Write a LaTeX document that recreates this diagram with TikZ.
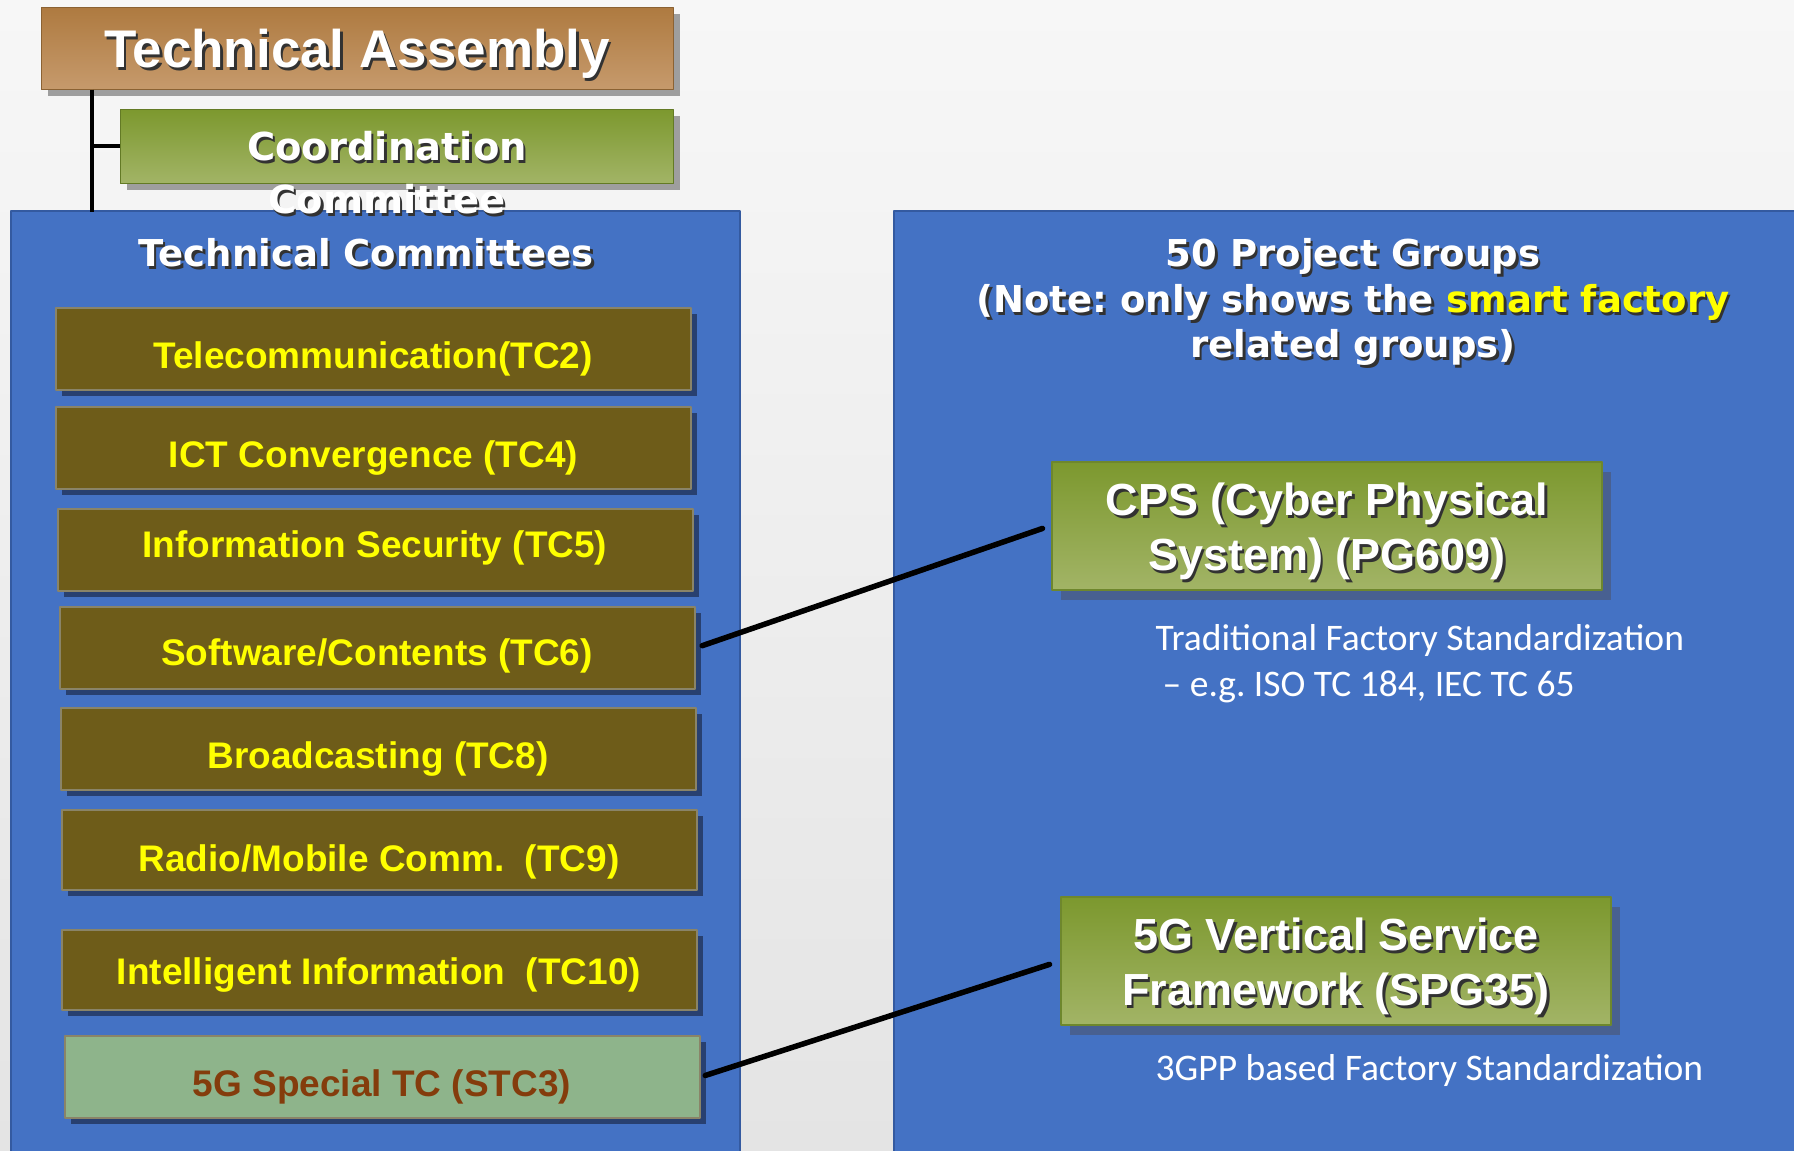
\documentclass[tikz,border=0pt]{standalone}
\usepackage{fontspec}
\setmainfont{Liberation Sans}
\newfontfamily\tahoma{DejaVu Sans}
\newfontfamily\calib{Carlito}
\usepackage{xcolor}
\usepackage{tikz}
\usetikzlibrary{shadows,calc}
\definecolor{bgtop}{RGB}{247,247,247}
\definecolor{bgbottom}{RGB}{228,228,228}
\definecolor{panelblue}{RGB}{68,114,196}
\definecolor{paneledge}{RGB}{52,90,160}
\definecolor{tatop}{RGB}{174,122,64}
\definecolor{tabottom}{RGB}{198,154,108}
\definecolor{grtop}{RGB}{124,152,46}
\definecolor{grbottom}{RGB}{162,180,102}
\definecolor{grayshadow}{RGB}{158,158,158}
\definecolor{tcfill}{RGB}{110,92,25}
\definecolor{tcedge}{RGB}{138,132,104}
\definecolor{tcshadow}{RGB}{40,64,112}
\definecolor{tcyellow}{RGB}{255,255,0}
\definecolor{stcfill}{RGB}{142,180,139}
\definecolor{stctext}{RGB}{132,60,12}
\definecolor{pgshadow}{RGB}{72,96,145}
\definecolor{pgedge}{RGB}{110,135,45}
\definecolor{txtshadow}{RGB}{50,50,50}
\newcommand\hlt[1]{\textcolor{tcyellow}{#1}}
\newcommand\shd[1]{\leavevmode\rlap{\hspace{2.5pt}\raisebox{-3pt}{\color{txtshadow}\let\hlt\relax#1}}#1}

\begin{document}
\frenchspacing
\begin{tikzpicture}[line cap=round,line join=round,x=1pt,y=-1pt,
    panel/.style={draw=paneledge,line width=1.5pt,fill=panelblue},
    spine/.style={line width=4pt,black,line cap=butt},
    link/.style={line width=5.5pt,black},
    tabox/.style={rectangle,inner sep=0pt,minimum width=632pt,minimum height=82pt,top color=tatop,bottom color=tabottom,draw=tatop!80!black,line width=1pt,text=white,font=\fontsize{53}{60}\selectfont\bfseries,text height=38pt,text depth=0pt,drop shadow={shadow xshift=7pt,shadow yshift=-7pt,fill=grayshadow,opacity=1}},
    coordbox/.style={rectangle,inner sep=0pt,minimum width=553pt,minimum height=74pt,top color=grtop,bottom color=grbottom,draw=grtop!80!black,line width=1pt,drop shadow={shadow xshift=7pt,shadow yshift=-7pt,fill=grayshadow,opacity=1}},
    headtxt/.style={inner sep=0pt,text=white,align=center,font=\tahoma\fontsize{37}{45.5}\selectfont\bfseries},
    tcbox/.style={rectangle,inner sep=0pt,minimum width=635pt,minimum height=82pt,fill=tcfill,draw=tcedge,line width=2pt,text=tcyellow,font=\fontsize{37}{44}\selectfont\bfseries,text height=39pt,text depth=0pt,drop shadow={shadow xshift=6pt,shadow yshift=-6pt,fill=tcshadow,opacity=1}},
    stcbox/.style={tcbox,fill=stcfill,text=stctext},
    pgbox/.style={rectangle,inner sep=0pt,minimum width=550pt,minimum height=128pt,top color=grtop,bottom color=grbottom,draw=pgedge,line width=2pt,text=white,align=center,font=\fontsize{45}{55}\selectfont\bfseries,drop shadow={shadow xshift=9pt,shadow yshift=-10pt,fill=pgshadow,opacity=1}},
    notetxt/.style={inner sep=0pt,anchor=west,align=left,text=white,font=\calib\fontsize{37.5}{46}\selectfont}]
    \useasboundingbox (0,0) rectangle (1794,1151);
    \shade [top color=bgtop,bottom color=bgbottom] (0,0) rectangle (1794,1151);
    \draw [panel] (11,211) rectangle (740,1165);
    \draw [panel] (894,211) rectangle (1805,1165);

    \node [tabox] (ta) at (357,48) {\shd{Technical Assembly}};
    \node [coordbox] (coord) at (396.5,146) {};
    \coordinate (spine) at (91.5,212);
    \draw [spine] (ta.south -| spine) -- (spine);
    \draw [spine] (spine |- coord.west) -- (coord.west);
    \node [headtxt,font=\tahoma\fontsize{38.5}{53}\selectfont\bfseries] (coordtxt) at (387,174) {\shd{Coordination}\\\shd{Committee}};

    \node [headtxt,text height=27pt,text depth=0pt] (tctitle) at (366,253) {\shd{Technical Committees}};
    \node [tcbox] (tc2) at (373,349) {Telecommunication(TC2)};
    \node [tcbox] (tc4) at (373.5,448) {ICT Convergence (TC4)};
    \node [tcbox,text height=15pt] (tc5) at (375,550) {Information Security (TC5)};
    \node [tcbox,text height=34pt] (tc6) at (377,648) {Software/Contents (TC6)};
    \node [tcbox] (tc8) at (378,749) {Broadcasting (TC8)};
    \node [tcbox,minimum height=80pt,text height=42pt] (tc9) at (379,850) {Radio/Mobile Comm.~~(TC9)};
    \node [tcbox,minimum height=80pt,text height=29pt] (tc10) at (379,970) {Intelligent Information~~(TC10)};
    \node [stcbox] (stc3) at (382,1077) {5G Special TC (STC3)};

    \node [headtxt] (pgtitle) at (1353,303.5) {\shd{50 Project Groups}\\\shd{(Note: only shows the \hlt{smart factory}}\\\shd{related groups)}};
    \node [pgbox] (cps) at (1327,525.5) {\rule{0pt}{47pt}\shd{CPS (Cyber Physical}\\\shd{System) (PG609)}};
    \node [notetxt] (cpsnote) at (1155.5,664) {Traditional Factory Standardization\\\hspace*{7pt}– e.g. ISO TC 184, IEC TC 65};
    \node [pgbox] (vsf) at (1336,961) {\rule{0pt}{46pt}\shd{5G Vertical Service}\\\shd{Framework (SPG35)}};
    \node [notetxt] (vsfnote) at (1155.5,1070) {3GPP based Factory Standardization};

    \draw [link,shorten <=7pt,shorten >=9pt] (tc6.east) -- (cps.west);
    \draw [link,shorten <=5pt,shorten >=11pt] (stc3.east) -- (vsf.west);
\end{tikzpicture}
\end{document}
